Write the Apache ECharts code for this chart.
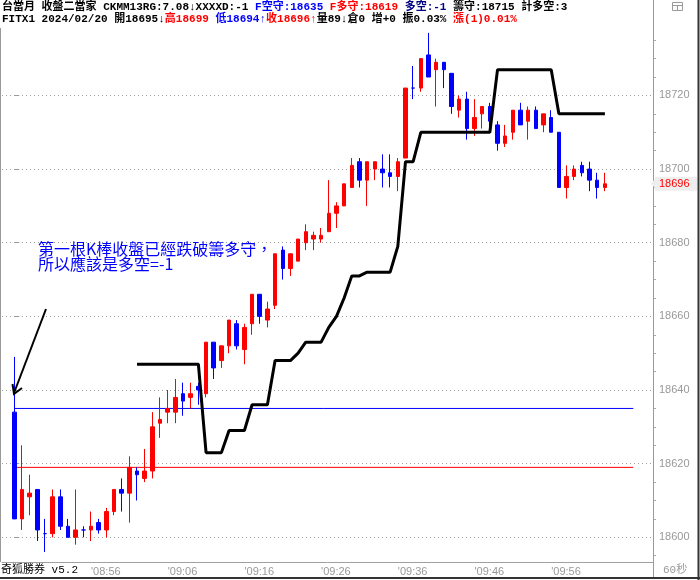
<!DOCTYPE html>
<html><head><meta charset="utf-8">
<script src="https://cdn.jsdelivr.net/npm/echarts@6/dist/echarts.min.js"></script>
<style>html,body{margin:0;padding:0;background:#fff}#c{width:700px;height:580px}</style>
</head><body><div id="c"></div>
<script>
// ---- data (1-minute bars, 08:46 .. 10:03) ----
const openP = [18634,18605,18611,18613,18601,18601,18611,18603,18600,18602,
 18602,18604,18602,18607,18613,18612,18618,18616,18618,18631,
 18634,18634,18639,18638,18641,18639,18653,18648,18652,18658,
 18651,18658,18666,18659,18663,18678,18673,18675,18680,18681,
 18681,18683,18688,18690,18695,18702,18697,18700,18700,18699,
 18698,18703,18722,18722,18731,18727,18729,18726,18716,18719,
 18711,18715,18717,18712,18707,18710,18716,18713,18716,18712,
 18714,18710,18695,18698,18701,18700,18697,18695];
const closeP = [18605,18613,18612,18602,18601,18611,18603,18600,18602,18602,
 18603,18602,18607,18613,18612,18619,18617,18618,18630,18632,
 18635,18638,18637,18639,18640,18653,18646,18652,18659,18652,
 18657,18666,18660,18662,18677,18673,18677,18681,18683,18682,
 18682,18688,18690,18696,18701,18697,18702,18702,18699,18698,
 18702,18722,18722,18730,18725,18729,18727,18717,18719,18711,
 18714,18717,18713,18707,18709,18716,18712,18716,18711,18715,
 18710,18695,18698,18700,18699,18697,18695,18696];
const lowP = [18605,18602,18606,18599,18596,18600,18602,18600,18598,18600,
 18599,18601,18600,18606,18607,18604,18610,18615,18616,18627,
 18631,18631,18633,18635,18636,18638,18643,18646,18650,18651,
 18647,18655,18658,18657,18662,18670,18671,18675,18678,18678,
 18680,18683,18684,18690,18695,18695,18690,18697,18695,18695,
 18694,18703,18719,18721,18725,18717,18722,18715,18714,18708,
 18709,18711,18711,18705,18706,18708,18712,18708,18711,18710,
 18710,18695,18692,18697,18698,18694,18692,18694];
const highP = [18649,18625,18617,18613,18605,18613,18613,18605,18613,18603,
 18607,18605,18608,18613,18616,18622,18619,18624,18634,18638,
 18640,18643,18642,18642,18642,18653,18653,18652,18659,18659,
 18658,18666,18666,18664,18677,18679,18677,18681,18685,18683,
 18684,18697,18691,18696,18703,18703,18702,18702,18704,18704,
 18703,18722,18728,18730,18737,18730,18729,18726,18720,18721,
 18719,18717,18718,18713,18712,18716,18718,18717,18717,18715,
 18716,18710,18701,18701,18702,18702,18699,18699];
// black stop line, starts at bar index 16
const stopStart = 16;
const stopLine = [18647,18647,18647,18647,18647,18647,18647,18647,18647,
 18623,18623,18623,18629,18629,18629,18636,18636,18636,18648,18648,18648,
 18650,18653,18653,18653,18657,18660,18665,18671,18671,18672,18672,18672,18672,
 18679,18702,18702,
 18710,18710,18710,18710,18710,18710,18710,18710,18710,18710,
 18727,18727,18727,18727,18727,18727,18727,18727,
 18715,18715,18715,18715,18715,18715,18715];
const fKong = 18635, fDuo = 18619, duoKong = -1, chouShou = 18715, jiDuoKong = 3;
const hLineFrom = 0, hLineTo = 80.7;
const lastClose = 18696;
const timeTickIdx = [10,20,30,40,50,60,70];
const timeTickLabels = ['08:56','09:06','09:16','09:26','09:36','09:46','09:56'];
const priceTicks = [18600,18620,18640,18660,18680,18700,18720];

// ---- layout ----
const yMin = 18593.3, yMax = 18737.77;
const xMin = -1.604, xMax = 83.27;
const minorTicks = [];
for (let v = 18595; v <= 18735; v += 5) if (v % 20 !== 0) minorTicks.push(v);

const UP = '#ff0000', DN = '#0000ff';
const candles = openP.map((o, i) => {
  const c = closeP[i];
  const col = c > o ? UP : DN;
  return { value: [i, o, c, lowP[i], highP[i]],
    itemStyle: { color: col, color0: col, borderColor: col, borderColor0: col, borderWidth: 1 } };
});
const stopData = stopLine.map((v, k) => [stopStart + k, v]);

const HF = "'Liberation Mono','Noto Sans CJK TC'";
const rs = (c) => ({ color: c, fontSize: 11, fontFamily: HF, lineHeight: 12 });
const rich = { k: rs('#000000'), b: rs('#0000ff'), r: rs('#ff0000'), n: rs('#000080') };

const line1 = '{k|台當月 收盤二當家 CKMM13RG:7.08↓XXXXD:-1 }{b|F空守:' + fKong + '}{k| }{r|F多守:' + fDuo +
  '}{k| }{n|多空:' + duoKong + '}{k| 籌守:' + chouShou + ' 計多空:' + jiDuoKong + '}';
const line2 = '{k|FITX1 2024/02/20 開' + openP[77] + '↓}{r|高' + highP[77] + '}{k| }{b|低' + lowP[77] +
  '↑}{r|收' + closeP[77] + '↑}{k|量89↓倉0 增+0 振0.03% }{r|漲(1)0.01%}';

const chart = echarts.init(document.getElementById('c'), null, { renderer: 'canvas' });
chart.setOption({
  animation: false,
  backgroundColor: '#ffffff',
  title: [
    { left: 2, top: 1, padding: 0, text: line1, textStyle: { fontSize: 11, fontFamily: HF, lineHeight: 12, rich } },
    { left: 2, top: 13, padding: 0, text: line2, textStyle: { fontSize: 11, fontFamily: HF, lineHeight: 12, rich } }
  ],
  grid: { left: 2, right: 47, top: 30, bottom: 18, outerBoundsMode: 'none' },
  xAxis: {
    type: 'value', min: xMin, max: xMax,
    splitLine: { show: false },
    axisLine: { show: true, lineStyle: { color: '#a0a0a0', width: 1 } },
    axisTick: { show: false },
    axisLabel: {
      customValues: timeTickIdx,
      formatter: (v) => "'" + timeTickLabels[timeTickIdx.indexOf(v)],
      align: 'left', color: '#999999', fontSize: 11, fontFamily: 'Liberation Sans', margin: 4
    }
  },
  yAxis: [
    {
      type: 'value', position: 'right', min: yMin, max: yMax, scale: true,
      splitLine: { show: false }, axisLine: { show: false },
      axisTick: { show: true, customValues: priceTicks, length: 5, lineStyle: { color: '#999999' } },
      axisLabel: { customValues: priceTicks, formatter: (v) => String(v), color: '#999999', fontSize: 11,
        fontFamily: 'Liberation Sans', margin: 6 }
    },
    {
      type: 'value', position: 'right', min: yMin, max: yMax, scale: true,
      splitLine: { show: false }, axisLine: { show: false },
      axisTick: { show: true, customValues: minorTicks, length: 3, lineStyle: { color: '#aaaaaa' } },
      axisLabel: { show: false }
    }
  ],
  series: [
    {
      type: 'line', name: 'F空守', data: [[hLineFrom, fKong], [hLineTo, fKong]], symbol: 'none', z: 2,
      lineStyle: { color: '#0000ff', width: 1 }, silent: true,
      markLine: {
        z: 1, silent: true, symbol: ['none', 'none'], label: { show: false },
        lineStyle: { color: '#a0a0a0', width: 1, type: [1, 3] },
        data: priceTicks.map(v => ({ yAxis: v }))
      }
    },
    {
      type: 'line', name: 'F多守', data: [[hLineFrom, fDuo], [hLineTo, fDuo]], symbol: 'none', z: 2,
      lineStyle: { color: '#ff0000', width: 1 }, silent: true
    },
    {
      type: 'candlestick', name: 'K', data: candles, barWidth: 4, z: 3,
      markLine: {
        z: 6, silent: true, symbol: ['none', 'none'],
        lineStyle: { color: 'rgba(0,0,0,0)', width: 0 },
        label: { show: true, position: 'end', distance: 2, formatter: String(lastClose),
          color: '#ff0000', backgroundColor: '#eeeeee', padding: [2, 8, 1, 4], opacity: 1,
          fontSize: 11, fontFamily: 'Liberation Sans' },
        data: [{ yAxis: lastClose }]
      }
    },
    {
      type: 'line', name: '籌守', data: stopData, symbol: 'none', z: 4,
      lineStyle: { color: '#000000', width: 3 }, silent: true
    }
  ],
  graphic: [
    { type: 'line', shape: { x1: 653.5, y1: 0, x2: 653.5, y2: 578 }, style: { stroke: '#999999', lineWidth: 1 }, z: 10 },
    { type: 'line', shape: { x1: 0.5, y1: 28, x2: 0.5, y2: 562 }, style: { stroke: '#999999', lineWidth: 1 }, z: 10 },
    { type: 'rect', shape: { x: 0, y: 577, width: 700, height: 2 }, style: { fill: '#333333' }, z: 10 },
    { type: 'rect', shape: { x: 697.5, y: 0, width: 2, height: 580 }, style: { fill: '#333333' }, z: 10 },
    { type: 'rect', shape: { x: 672.5, y: 2.5, width: 10, height: 8 }, style: { stroke: '#999999', fill: 'none', lineWidth: 1 }, z: 10 },
    { type: 'line', shape: { x1: 672.5, y1: 5.5, x2: 682.5, y2: 5.5 }, style: { stroke: '#999999', lineWidth: 1 }, z: 10 },
    { type: 'line', shape: { x1: 677.5, y1: 5.5, x2: 677.5, y2: 10.5 }, style: { stroke: '#999999', lineWidth: 1 }, z: 10 },
    { type: 'polygon', shape: { points: [[651, 183.5], [655, 179], [655, 188]] }, style: { fill: '#eeeeee' }, z: 10 },
    { type: 'text', x: 38, y: 249, style: { text: '第一根K棒收盤已經跌破籌多守，', fill: '#0000ff', fontSize: 16,
      fontFamily: "'Noto Sans CJK TC'", verticalAlign: 'middle', align: 'left' }, z: 10 },
    { type: 'text', x: 38, y: 264, style: { text: '所以應該是多空=-1', fill: '#0000ff', fontSize: 16,
      fontFamily: "'Noto Sans CJK TC'", verticalAlign: 'middle', align: 'left' }, z: 10 },
    { type: 'polyline', shape: { points: [[46, 309], [14, 393]] }, style: { stroke: '#000000', lineWidth: 2, fill: 'none' }, z: 10 },
    { type: 'polyline', shape: { points: [[12.5, 384], [14, 394], [22, 388]] }, style: { stroke: '#000000', lineWidth: 2, fill: 'none' }, z: 10 },
    { type: 'text', x: 1, y: 570, style: { text: '奇狐勝券 v5.2', fill: '#000000', fontSize: 11, fontFamily: HF,
      verticalAlign: 'middle', align: 'left' }, z: 10 },
    { type: 'text', x: 663, y: 570, style: { text: '60秒', fill: '#999999', fontSize: 11, fontFamily: HF,
      verticalAlign: 'middle', align: 'left' }, z: 10 }
  ]
});
</script>
</body></html>
